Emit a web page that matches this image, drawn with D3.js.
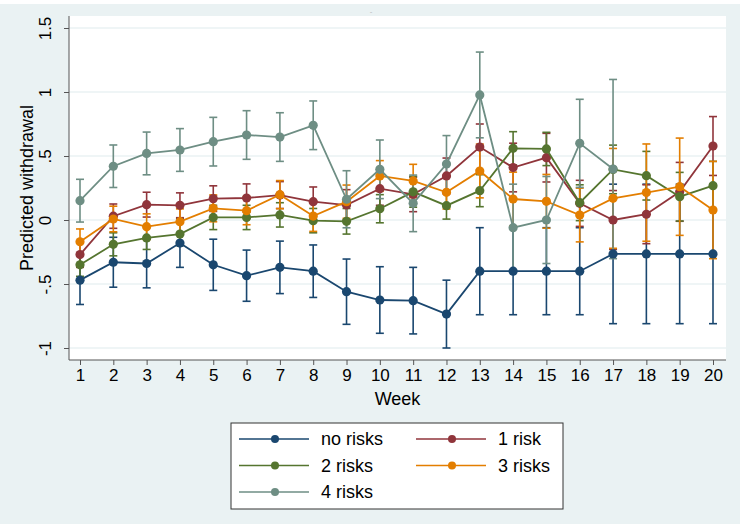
<!DOCTYPE html>
<html>
<head>
<meta charset="utf-8">
<script src="https://cdn.jsdelivr.net/npm/d3@7"></script>
<style>
  body { margin: 0; background: #ffffff; }
  text { font-family: Arial, "Liberation Sans", sans-serif; fill: #000; }
</style>
</head>
<body>
<div id="chart"></div>
<script>
// Weeks and the five risk groups
const weeks = d3.range(1, 21);
const seriesNames = ["no risks", "1 risk", "2 risks", "3 risks", "4 risks"];
const seriesColors = ["#1a476f", "#90353b", "#55752f", "#e37e00", "#6e8e84"];

// predicted values
const noRisks = [-0.47, -0.33, -0.34, -0.18, -0.35, -0.435, -0.37, -0.40, -0.56, -0.625,
                 -0.63, -0.735, -0.40, -0.40, -0.40, -0.40, -0.265, -0.265, -0.265, -0.265];
const oneRisk = [-0.27, 0.03, 0.12, 0.115, 0.167, 0.172, 0.195, 0.143, 0.117, 0.245,
                 0.20, 0.344, 0.57, 0.41, 0.487, 0.13, 0.0, 0.045, 0.22, 0.578];
const twoRisks = [-0.35, -0.19, -0.14, -0.11, 0.02, 0.02, 0.04, -0.005, -0.01, 0.088,
                  0.22, 0.112, 0.229, 0.56, 0.555, 0.135, 0.395, 0.346, 0.182, 0.268];
const threeRisks = [-0.17, 0.008, -0.052, -0.013, 0.091, 0.073, 0.198, 0.031, 0.143, 0.344,
                    0.305, 0.216, 0.383, 0.164, 0.146, 0.039, 0.169, 0.214, 0.26, 0.078];
const fourRisks = [0.151, 0.42, 0.52, 0.547, 0.612, 0.664, 0.648, 0.74, 0.162, 0.396,
                   0.13, 0.4375, 0.977, -0.06, 0.0, 0.599, 0.398, null, null, null];

// half-widths of the 95% confidence intervals
const noRisksCI = [0.19, 0.195, 0.19, 0.19, 0.20, 0.20, 0.205, 0.205, 0.255, 0.26,
                   0.26, 0.265, 0.34, 0.34, 0.34, 0.34, 0.545, 0.545, 0.545, 0.545];
const oneRiskCI = [0.10, 0.095, 0.097, 0.097, 0.10, 0.11, 0.105, 0.115, 0.12, 0.13,
                   0.135, 0.14, 0.18, 0.19, 0.19, 0.18, 0.23, 0.23, 0.23, 0.23];
const twoRisksCI = [0.09, 0.09, 0.09, 0.09, 0.095, 0.095, 0.095, 0.095, 0.10, 0.11,
                    0.12, 0.105, 0.125, 0.13, 0.13, 0.14, 0.19, 0.19, 0.19, 0.19];
const threeRisksCI = [0.10, 0.10, 0.10, 0.10, 0.105, 0.11, 0.11, 0.12, 0.13, 0.12,
                      0.13, 0.13, 0.21, 0.21, 0.21, 0.21, 0.39, 0.38, 0.38, 0.38];
const fourRisksCI = [0.167, 0.166, 0.167, 0.167, 0.19, 0.19, 0.19, 0.19, 0.223, 0.229,
                     0.221, 0.222, 0.335, 0.34, 0.34, 0.344, 0.70, null, null, null];

const yTicks = [-1, -0.5, 0, 0.5, 1, 1.5];
const yTickLabels = ["-1", "-.5", "0", ".5", "1", "1.5"];

const seriesValues = [noRisks, oneRisk, twoRisks, threeRisks, fourRisks];
const seriesCI = [noRisksCI, oneRiskCI, twoRisksCI, threeRisksCI, fourRisksCI];

const width = 740, height = 524;
const plot = { left: 69, right: 726, top: 16, bottom: 360 };

const svg = d3.select("#chart").append("svg")
    .attr("width", width)
    .attr("height", height);

// outer graph region
svg.append("rect")
    .attr("x", 0).attr("y", 4)
    .attr("width", width).attr("height", height - 4)
    .attr("fill", "#eaf2f3");

// plot region
svg.append("rect")
    .attr("x", plot.left).attr("y", plot.top)
    .attr("width", plot.right - plot.left).attr("height", plot.bottom - plot.top)
    .attr("fill", "#ffffff");

const x = d3.scaleLinear().domain([1, 20]).range([80, 713]);
const y = d3.scaleLinear().domain([-1, 1.5]).range([348, 28]);

// grid lines
svg.append("g").selectAll("line")
    .data(yTicks)
    .enter().append("line")
    .attr("x1", plot.left).attr("x2", plot.right)
    .attr("y1", d => y(d)).attr("y2", d => y(d))
    .attr("stroke", "#eaf2f3")
    .attr("stroke-width", 1.5);

// y axis
const yAxis = d3.axisLeft(y)
    .tickValues(yTicks)
    .tickFormat((d, i) => yTickLabels[i])
    .tickSize(5);

const gy = svg.append("g")
    .attr("transform", `translate(${plot.left},0)`)
    .call(yAxis);
gy.select(".domain").remove();
gy.append("line")
    .attr("x1", 0).attr("x2", 0)
    .attr("y1", plot.top).attr("y2", plot.bottom)
    .attr("stroke", "#555");
gy.selectAll(".tick line").attr("stroke", "#555");
gy.selectAll(".tick text")
    .attr("x", 0).attr("y", 0).attr("dy", null)
    .attr("transform", "translate(-24,0) rotate(-90)")
    .attr("text-anchor", "middle")
    .attr("dominant-baseline", "central")
    .style("font-size", "17px")
    .style("font-family", "Arial, 'Liberation Sans', sans-serif")
    .attr("fill", "#000");

// x axis
const xAxis = d3.axisBottom(x)
    .tickValues(weeks)
    .tickFormat(d3.format("d"))
    .tickSize(5)
    .tickPadding(4);

const gx = svg.append("g")
    .attr("transform", `translate(0,${plot.bottom})`)
    .call(xAxis);
gx.select(".domain").remove();
gx.append("line")
    .attr("x1", plot.left).attr("x2", plot.right)
    .attr("y1", 0).attr("y2", 0)
    .attr("stroke", "#555");
gx.selectAll(".tick line").attr("stroke", "#555");
gx.selectAll(".tick text")
    .style("font-size", "17px")
    .style("font-family", "Arial, 'Liberation Sans', sans-serif")
    .attr("fill", "#000");

// axis titles
svg.append("text")
    .attr("x", (plot.left + plot.right) / 2)
    .attr("y", 405)
    .attr("text-anchor", "middle")
    .style("font-size", "18px")
    .text("Week");

svg.append("text")
    .attr("transform", `translate(33,${(plot.top + plot.bottom) / 2}) rotate(-90)`)
    .attr("text-anchor", "middle")
    .style("font-size", "18px")
    .text("Predicted withdrawal");

// tiny mark of the empty title
svg.append("text")
    .attr("x", 371).attr("y", 14)
    .attr("text-anchor", "middle")
    .style("font-size", "8px")
    .style("fill", "#bbb")
    .text("-");

// confidence intervals (capped spikes)
const capHalf = 4;
seriesValues.forEach(function (vals, s) {
    const g = svg.append("g").attr("class", "ci");
    const pts = weeks.map((w, i) => ({ w: w, v: vals[i], h: seriesCI[s][i] }))
        .filter(d => d.v !== null && d.h !== null);
    g.selectAll("line.spike")
        .data(pts)
        .enter().append("line")
        .attr("x1", d => x(d.w)).attr("x2", d => x(d.w))
        .attr("y1", d => y(d.v - d.h)).attr("y2", d => y(d.v + d.h))
        .attr("stroke", seriesColors[s]).attr("stroke-width", 1.6);
    ["lo", "hi"].forEach(function (end) {
        g.selectAll("line.cap-" + end)
            .data(pts)
            .enter().append("line")
            .attr("x1", d => x(d.w) - capHalf).attr("x2", d => x(d.w) + capHalf)
            .attr("y1", d => y(end === "lo" ? d.v - d.h : d.v + d.h))
            .attr("y2", d => y(end === "lo" ? d.v - d.h : d.v + d.h))
            .attr("stroke", seriesColors[s]).attr("stroke-width", 1.6);
    });
});

// connected lines with markers
const line = d3.line()
    .defined(d => d.v !== null)
    .x(d => x(d.w))
    .y(d => y(d.v));

seriesValues.forEach(function (vals, s) {
    const pts = weeks.map((w, i) => ({ w: w, v: vals[i] }));
    svg.append("path")
        .datum(pts)
        .attr("d", line)
        .attr("fill", "none")
        .attr("stroke", seriesColors[s])
        .attr("stroke-width", 1.8);
    svg.append("g").selectAll("circle")
        .data(pts.filter(d => d.v !== null))
        .enter().append("circle")
        .attr("cx", d => x(d.w))
        .attr("cy", d => y(d.v))
        .attr("r", 4.6)
        .attr("fill", seriesColors[s]);
});

// legend
const legend = svg.append("g").attr("class", "legend");
legend.append("rect")
    .attr("x", 231).attr("y", 423)
    .attr("width", 332).attr("height", 86)
    .attr("fill", "#ffffff")
    .attr("stroke", "#333")
    .attr("stroke-width", 1);

const legendItems = legend.selectAll("g.item")
    .data(seriesNames)
    .enter().append("g")
    .attr("class", "item")
    .attr("transform", (d, i) => `translate(${i % 2 === 0 ? 239 : 416},${439 + Math.floor(i / 2) * 26.5})`);

legendItems.append("line")
    .attr("x1", 0).attr("x2", 70)
    .attr("y1", 0).attr("y2", 0)
    .attr("stroke", (d, i) => seriesColors[i])
    .attr("stroke-width", 1.5);
legendItems.append("circle")
    .attr("cx", 36).attr("cy", 0).attr("r", 4)
    .attr("fill", (d, i) => seriesColors[i]);
legendItems.append("text")
    .attr("x", 82).attr("y", 0)
    .attr("dy", "0.36em")
    .style("font-size", "18px")
    .text(d => d);
</script>
</body>
</html>
